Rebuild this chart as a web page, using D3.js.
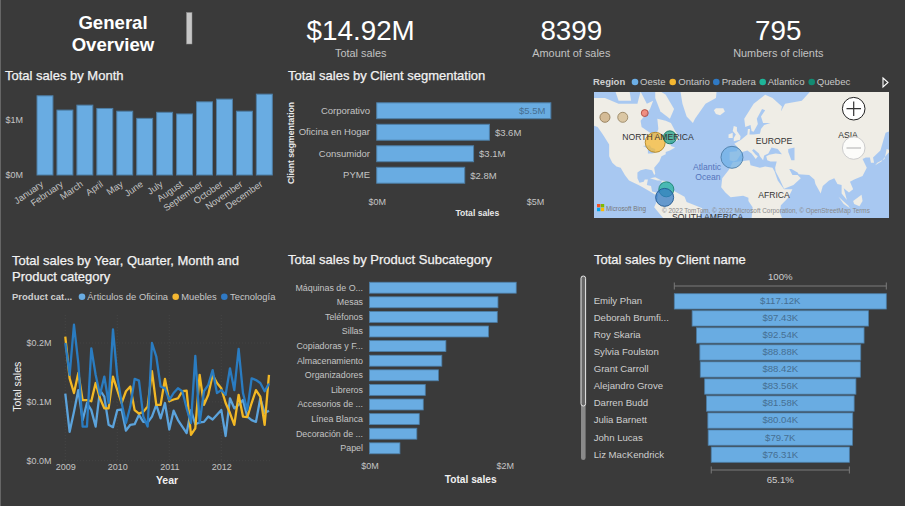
<!DOCTYPE html>
<html><head><meta charset="utf-8">
<script src="https://cdn.jsdelivr.net/npm/d3@7"></script>
<style>
html,body{margin:0;padding:0;background:#3a3a3a;overflow:hidden}
svg{display:block;font-family:"Liberation Sans",Arial,sans-serif}
.title{fill:#f2f2f2;font-size:13px;stroke:#f2f2f2;stroke-width:.25px}
.tick text{fill:#c4c4c4;font-size:9px}
</style></head><body><svg id="c" width="905" height="506"></svg>
<script>
// ---------- data ----------
const months=["January","February","March","April","May","June","July","August","September","October","November","December"];
const monthSales=[1.44,1.18,1.27,1.21,1.16,1.03,1.14,1.11,1.33,1.38,1.16,1.47];
const segments=["Corporativo","Oficina en Hogar","Consumidor","PYME"];
const segmentSales=[5.5,3.56,3.06,2.78];
const subcats=["Máquinas de O...","Mesas","Teléfonos","Sillas","Copiadoras y F...","Almacenamiento","Organizadores","Libreros","Accesorios de ...","Línea Blanca","Decoración de ...","Papel"];
const subcatSales=[2.17,1.90,1.89,1.76,1.13,1.07,1.02,0.825,0.795,0.736,0.70,0.45];
const clients=["Emily Phan","Deborah Brumfi...","Roy Skaria","Sylvia Foulston","Grant Carroll","Alejandro Grove","Darren Budd","Julia Barnett","John Lucas","Liz MacKendrick"];
const clientSales=[117.12,97.43,92.54,88.88,88.42,83.56,81.58,80.04,79.7,76.31];
const funnelEnds=["100%","65.1%"];
const years=[2009,2010,2011,2012];
const articulos=[114,49,83,120,69,98,86,58,120,109,61,57,86,87,51,61,62,78,66,65,75,95,72,98,53,85,69,58,47,86,62,65,66,75,70,78,86,42,106,89,95,103,75,69,66,106,81,85];
const muebles=[211,140,115,149,103,103,101,132,106,89,89,143,120,98,118,126,86,80,83,92,152,95,95,139,101,104,106,118,119,44,55,146,95,112,146,132,123,98,81,61,112,75,74,98,120,109,61,146];
const tecnologia=[200,146,231,166,58,58,191,146,112,143,98,223,143,98,64,92,139,136,75,58,200,177,126,123,103,115,123,118,89,64,178,64,118,129,154,115,120,112,157,120,190,115,86,140,137,132,118,131];
const kpiValues=["$14.92M","8399","795"];
const kpiLabels=["Total sales","Amount of sales","Numbers of clients"];
const regionNames=["Oeste","Ontario","Pradera","Atlantico","Quebec"];
const bubbleLon=[-128,-111,-90,-80,-66,-6.7,-69.4,-71];
const bubbleLat=[62.6,62.6,64.4,49.4,52.4,39.2,12,4.4];
const bubbleSize=[25,25,12,100,42,121,56,81];
const bubbleColor=["#c9a877","#d2b98a","#f0695a","#f4b731","#1b9e86","#6caee6","#26b39c","#2f79c4"];
// coarse coastlines, [lon,lat]
const land=[
[[-168,66],[-162,70],[-156,71],[-141,70],[-128,70],[-115,68],[-108,68],[-97,68],[-94,72],[-88,68],[-82,69],[-85,66],[-94,61],[-93,58],[-85,55],[-82,53],[-80,51],[-79,54],[-77,57],[-78,62],[-70,61],[-65,60],[-61,56],[-56,52],[-60,50],[-66,50],[-65,47],[-61,46],[-66,44],[-70,43],[-70,41.5],[-74,40],[-76,36],[-81,31],[-80,26],[-81,25],[-83,29],[-89,30],[-94,29],[-97,27],[-97,22],[-95,18],[-91,19],[-90,21],[-87,21],[-88,16],[-84,15],[-83,10],[-79,9],[-77,8],[-80,7],[-85,10],[-92,14],[-96,16],[-105,20],[-109,25],[-113,31],[-117,32],[-121,35],[-124,40],[-124,48],[-130,54],[-135,58],[-146,60],[-152,59],[-160,55],[-158,58],[-165,61],[-165,64]],
[[-80,73],[-70,71],[-62,66],[-66,62],[-75,65],[-80,70]],
[[-118,72],[-105,73],[-103,69],[-115,69]],
[[-95,80],[-65,83],[-62,80],[-78,76],[-92,76]],
[[-125,74],[-115,76],[-100,76],[-95,74],[-110,73]],
[[-60,76],[-40,83],[-20,76],[-22,70],[-32,68],[-42,62],[-44,60],[-50,63],[-54,68],[-57,74]],
[[-24,65.5],[-22,66.3],[-15,66.3],[-13.5,65],[-18,63.5],[-22,64]],
[[-5,50],[1,51],[1.5,53],[-2,56],[-2,58],[-5,58.5],[-6,56],[-3,54],[-5,52]],
[[-10,52],[-6,52],[-6,55],[-10,54]],
[[-9,37],[-9,43],[-2,43.5],[-1,46],[-4.5,48.5],[2,51],[8,54],[8.5,57],[10.5,57],[10,54],[14,54],[20,54.5],[21,57],[24,59],[30,60],[23,60],[21,63],[25,65.5],[22,66],[17,62],[18,59.5],[14,55.5],[12,56],[11,59],[6,58],[5,62],[14,68],[25,71],[32,70],[41,67],[40,65],[44,68],[60,69],[68,72],[80,73],[105,77],[140,73],[180,69],[180,65],[163,60],[163,55],[157,51],[155,58],[140,55],[135,44],[128,39],[129,35],[126,35],[125,39],[121,39],[118,38],[122,31],[118,24],[110,21],[106,19],[109,12],[105,9],[100,13],[103,2],[98,8],[98,16],[94,17],[91,22],[86,20],[80,15],[78,8],[73,17],[72,21],[67,25],[57,25.5],[56,27],[50,30],[48,30],[51,25],[56,25],[59,22],[52,16],[43,12.5],[39,21],[35,28],[34.5,31],[36,36],[30,36],[27,37],[26,40],[29,41],[35,42],[41,41.5],[37,45],[31,46],[28,42],[24,40.5],[23,37],[20,40],[19,42],[14,45],[12.5,44],[16,41],[18,40],[16,38],[12,42],[8,44],[3,43],[0,39.5],[-2,37],[-5,36]],
[[-6,35.5],[10,37],[11,33],[20,31],[25,32],[32,31],[34,28],[37,20],[43,12],[51,12],[47,4],[40,-3],[39,-10],[41,-15],[35,-24],[28,-33],[18,-34],[12,-16],[13,-5],[9,1],[9,4],[4,6],[-8,4.5],[-13,9],[-17,14],[-16,22],[-10,29]],
[[-77,8],[-72,12],[-62,10.5],[-52,5],[-50,0],[-35,-6],[-39,-16],[-48,-26],[-58,-38],[-70,-50],[-72,-35],[-70,-18],[-81,-5],[-78,2]],
[[-85,22],[-80,23],[-74,20],[-78,20]],
[[-74,20],[-69,19.5],[-69,18],[-74,18]],
[[130,33],[136,36],[141,41],[145,44],[141,45],[139,38],[132,35]],
[[95,5],[104,-3],[106,-6],[100,-2]],
[[109,1],[117,7],[118,1],[115,-4],[110,-2]]
];
const water=[
[[47,45],[53,46],[53,37],[50,37],[47,43]],
[[-92,47],[-85,47.5],[-84,46],[-80,45],[-80,42.5],[-83,42],[-87,42],[-87,45],[-90,46.5]]
];
// ---------- style ----------
const BAR="#69ace2",EDGE="#4d7ea6",LBL="#c4c4c4",DARK="#466f92";
const svg=d3.select("#c");
svg.append("rect").attr("width",905).attr("height",506).attr("fill","#3a3a3a");
svg.append("rect").attr("width",1).attr("height",506).attr("fill","#666");
function txt(x,y,s,o={}){
  const t=svg.append("text").attr("x",x).attr("y",y).text(s)
    .attr("text-anchor",o.a||"start").attr("fill",o.c||LBL).attr("font-size",o.s||9.5)
    .attr("font-weight",o.w||400);
  if(o.r!==undefined)t.attr("transform",`rotate(${o.r} ${x} ${y})`);
  if(o.cls)t.attr("class",o.cls);
  return t;
}
function title(x,y,s){return txt(x,y,s,{cls:"title",c:"#f2f2f2",s:13});}
function axisStyle(g){g.select(".domain").remove();g.selectAll(".tick line").remove();}
// ---------- header ----------
txt(113,29,"General",{a:"middle",c:"#fff",s:18.6,w:700});
txt(113,50.5,"Overview",{a:"middle",c:"#fff",s:18.6,w:700});
svg.append("rect").attr("x",186.5).attr("y",12.5).attr("width",5.5).attr("height",31.5).attr("fill","#c6c6c6").attr("stroke","#8c8c8c").attr("stroke-width",.5);
const kpiX=[360.7,571.3,778.3];
kpiValues.forEach((v,i)=>{
  txt(kpiX[i],39.5,v,{a:"middle",c:"#fff",s:27.8});
  txt(kpiX[i],56.7,kpiLabels[i],{a:"middle",c:"#c2c2c2",s:10.9});
});
// ---------- month ----------
title(5,79.5,"Total sales by Month");
{
 const x=d3.scaleBand().domain(months).range([35,274.3]).paddingInner(.2).paddingOuter(.1);
 const y=d3.scaleLinear().domain([0,1]).range([175,120]);
 svg.selectAll(".m").data(months).join("rect").attr("x",d=>x(d)).attr("width",x.bandwidth())
   .attr("y",(d,i)=>y(monthSales[i])).attr("height",(d,i)=>y(0)-y(monthSales[i]))
   .attr("fill",BAR).attr("stroke",EDGE).attr("stroke-width",1);
 svg.append("g").attr("transform","translate(23,0)").call(d3.axisLeft(y).tickValues([0,1]).tickFormat(d=>"$"+d+"M").tickSize(0).tickPadding(0)).call(axisStyle);
 const ax=svg.append("g").attr("transform","translate(0,178)").call(d3.axisBottom(x).tickSize(0).tickPadding(0)).call(axisStyle);
 ax.selectAll("text").attr("text-anchor","end").attr("dy",0).attr("y",0).attr("x",0)
   .attr("transform","translate(-1,7.5) rotate(-35)").style("font-size","9.3px");
}
// ---------- segmentation ----------
title(288,79.5,"Total sales by Client segmentation");
{
 const x=d3.scaleLinear().domain([0,5]).range([376.7,535]);
 const y=d3.scaleBand().domain(segments).range([100,186]).paddingInner(.26).paddingOuter(.13);
 svg.selectAll(".s").data(segments).join("rect").attr("x",x(0)).attr("y",d=>y(d)).attr("height",y.bandwidth())
   .attr("width",(d,i)=>x(segmentSales[i])-x(0)).attr("fill",BAR).attr("stroke",EDGE);
 const a=svg.append("g").attr("transform","translate(370,0)").call(d3.axisLeft(y).tickSize(0).tickPadding(0)).call(axisStyle);
 a.selectAll("text").style("font-size","9.5px");
 svg.append("g").attr("transform","translate(0,199)").call(d3.axisBottom(x).tickValues([0,5]).tickFormat(d=>"$"+d+"M").tickSize(0).tickPadding(0)).call(axisStyle);
 segments.forEach((s,i)=>{
  const v="$"+d3.format(".1f")(segmentSales[i])+"M", yy=y(s)+y.bandwidth()/2+3.3;
  if(i===0)txt(x(segmentSales[i])-5.5,yy,v,{a:"end",c:DARK});
  else txt(x(segmentSales[i])+5.5,yy,v,{});
 });
 txt(294.3,143,"Client segmentation",{a:"middle",r:-90,s:8.6,w:700,c:"#e8e8e8"});
 txt(477.3,216,"Total sales",{a:"middle",s:8.6,w:700,c:"#e8e8e8"});
}
// ---------- map ----------
{
 txt(593,85,"Region",{s:9.5,w:700,c:"#cfcfcf"});
 const dotX=[635,672.7,716.3,762.7,811.7], textX=[640,678.3,721.7,767.7,816.7], dotC=["#6caee6","#f4b731","#2f79c4","#1fb59a","#138a72"];
 regionNames.forEach((r,i)=>{
  svg.append("circle").attr("cx",dotX[i]).attr("cy",82).attr("r",3.3).attr("fill",dotC[i]);
  txt(textX[i],85.4,r,{s:9.6,c:"#c8c8c8"});
 });
 svg.append("path").attr("d",d3.line()([[883,78],[888,82.5],[883,87]])+"Z").attr("fill","none").attr("stroke","#fff").attr("stroke-width",1.1);
 const defs=svg.append("defs");
 defs.append("clipPath").attr("id","mapclip").append("rect").attr("x",594).attr("y",92).attr("width",295).attr("height",126);
 defs.append("filter").attr("id","soft").append("feGaussianBlur").attr("stdDeviation",.6);
 const g=svg.append("g").attr("clip-path","url(#mapclip)");
 g.append("rect").attr("x",594).attr("y",92).attr("width",295).attr("height",126).attr("fill","#a8c8f1");
 const proj=d3.geoMercator().scale(60).translate([739,202]);
 const line=d3.line().x(d=>proj(d)[0]).y(d=>proj(d)[1]);
 const sharp=g.append("g").attr("filter","url(#soft)");
 sharp.selectAll(".l").data(land).join("path").attr("d",d=>line(d)+"Z").attr("fill","#efede6");
 sharp.selectAll(".w").data(water).join("path").attr("d",d=>line(d)+"Z").attr("fill","#a8c8f1");
 const r=d3.scaleSqrt().domain([0,121]).range([0,11]);
 bubbleSize.forEach((s,i)=>{
  const p=proj([bubbleLon[i],bubbleLat[i]]);
  g.append("circle").attr("cx",p[0]).attr("cy",p[1]).attr("r",r(s)).attr("fill",bubbleColor[i]).attr("fill-opacity",.72)
   .attr("stroke",d3.color(bubbleColor[i]).darker(.9)).attr("stroke-width",.9);
 });
 const ml=(x,y,s,c,fs)=>g.append("text").attr("x",x).attr("y",y).attr("text-anchor","middle").attr("font-size",fs||8.6).attr("fill",c||"#333").text(s);
 ml(658,140,"NORTH AMERICA");ml(774,144,"EUROPE");ml(848,137.5,"ASIA");ml(774,198,"AFRICA");
 ml(707.7,220,"SOUTH AMERICA");
 ml(707,170,"Atlantic","#5574bb");ml(708,180,"Ocean","#5574bb");
 [["#f25022",597,204],["#7fba00",600.8,204],["#00a4ef",597,207.8],["#ffb900",600.8,207.8]].forEach(d=>g.append("rect").attr("x",d[1]).attr("y",d[2]).attr("width",3.4).attr("height",3.4).attr("fill",d[0]));
 g.append("text").attr("x",606).attr("y",210.5).attr("font-size",6.3).attr("fill","#777").text("Microsoft Bing");
 g.append("text").attr("x",662).attr("y",212.5).attr("font-size",6.4).attr("fill","#8a8a8a").text("© 2022 TomTom, © 2022 Microsoft Corporation, © OpenStreetMap  Terms");
 g.append("circle").attr("cx",853.7).attr("cy",108.7).attr("r",11.3).attr("fill","#fff").attr("stroke","#222").attr("stroke-width",1);
 g.append("path").attr("d","M846.5,108.7H861M853.7,101.5V116").attr("stroke","#333").attr("stroke-width",1.2);
 g.append("circle").attr("cx",853.7).attr("cy",148).attr("r",11.3).attr("fill","#fff").attr("fill-opacity",.8).attr("stroke","#ccc").attr("stroke-width",1);
 g.append("path").attr("d","M846.5,148H861").attr("stroke","#bbb").attr("stroke-width",1.2);
}
// ---------- line chart ----------
title(12,265,"Total sales by Year, Quarter, Month and");
title(12,281,"Product category");
{
 txt(12,300,"Product cat...",{s:9.5,w:700,c:"#cfcfcf"});
 [[82,87.3,"#69ace2","Árticulos de Oficina"],[175.7,181.3,"#f4b731","Muebles"],[224.3,230,"#2f79c4","Tecnología"]].forEach(d=>{
  svg.append("circle").attr("cx",d[0]).attr("cy",296.8).attr("r",3.3).attr("fill",d[2]);
  txt(d[1],300,d[3],{s:9.4,c:"#c8c8c8"});
 });
 const x=d3.scaleLinear().domain([0,12]).range([65.3,117.3]);
 const y=d3.scaleLinear().domain([0,200]).range([460.7,343]);
 const grid=svg.append("g").attr("stroke","#4c4c4c").attr("stroke-width",.6).attr("stroke-dasharray","1 2");
 [0,100,200].forEach(v=>grid.append("line").attr("x1",62).attr("x2",272).attr("y1",y(v)).attr("y2",y(v)));
 years.forEach((yr,i)=>grid.append("line").attr("x1",x(i*12)).attr("x2",x(i*12)).attr("y1",315).attr("y2",460));
 svg.append("g").attr("transform","translate(51.5,0)").call(d3.axisLeft(y).tickValues([0,100,200]).tickFormat(d=>"$"+(d/1000).toFixed(1)+"M").tickSize(0).tickPadding(0)).call(axisStyle);
 svg.append("g").attr("transform","translate(0,464)").call(d3.axisBottom(x).tickValues(years.map((d,i)=>i*12)).tickFormat(d=>years[d/12]).tickSize(0).tickPadding(0)).call(axisStyle);
 const ln=d3.line().x((d,i)=>x(i)).y(d=>y(d));
 [[articulos,"#5ba3dc"],[muebles,"#f2b825"],[tecnologia,"#2a7cc1"]].forEach(s=>
  svg.append("path").attr("d",ln(s[0])).attr("fill","none").attr("stroke",s[1]).attr("stroke-width",2.3).attr("stroke-linejoin","round"));
 txt(21,386.7,"Total sales",{a:"middle",r:-90,s:10.6,c:"#f0f0f0"});
 txt(167,484,"Year",{a:"middle",s:10.5,w:700,c:"#f0f0f0"});
}
// ---------- subcategory ----------
title(288,264,"Total sales by Product Subcategory");
{
 const x=d3.scaleLinear().domain([0,2]).range([369.5,504.7]);
 const y=d3.scaleBand().domain(subcats).range([280.4,455.6]).paddingInner(.25).paddingOuter(.125);
 svg.selectAll(".p").data(subcats).join("rect").attr("x",x(0)).attr("y",d=>y(d)).attr("height",y.bandwidth())
  .attr("width",(d,i)=>x(subcatSales[i])-x(0)).attr("fill",BAR).attr("stroke",EDGE).attr("stroke-width",.8);
 const a=svg.append("g").attr("transform","translate(363,0)").call(d3.axisLeft(y).tickSize(0).tickPadding(0)).call(axisStyle);
 a.selectAll("text").style("font-size","8.9px");
 svg.append("g").attr("transform","translate(0,463)").call(d3.axisBottom(x).tickValues([0,2]).tickFormat(d=>"$"+d+"M").tickSize(0).tickPadding(0)).call(axisStyle);
 txt(470.7,482.5,"Total sales",{a:"middle",s:10.2,w:700,c:"#f0f0f0"});
}
// ---------- funnel ----------
title(594,264,"Total sales by Client name");
{
 const cx=780.3;
 const w=d3.scaleLinear().domain([0,clientSales[0]]).range([0,212]);
 const y=d3.scaleBand().domain(clients).range([292.85,463.15]).paddingInner(.1).paddingOuter(.05);
 svg.selectAll(".f").data(clients).join("rect").attr("y",d=>y(d)).attr("height",y.bandwidth())
  .attr("x",(d,i)=>cx-w(clientSales[i])/2).attr("width",(d,i)=>w(clientSales[i])).attr("fill",BAR).attr("stroke",EDGE).attr("stroke-width",.8);
 clients.forEach((c,i)=>{
  const m=y(c)+y.bandwidth()/2+2.9;
  txt(593.7,m,c,{s:9.6,c:"#cecece"});
  txt(cx,m,"$"+clientSales[i]+"K",{a:"middle",s:9.6,c:DARK});
 });
 const br=(x0,x1,yy)=>{svg.append("path").attr("d",`M${x0},${yy-3.5}V${yy+3.5}M${x1},${yy-3.5}V${yy+3.5}M${x0},${yy}H${x1}`).attr("stroke","#7a7a7a").attr("stroke-width",1).attr("fill","none");};
 const last=clientSales[clientSales.length-1];
 br(cx-106,cx+106,286);
 br(cx-w(last)/2,cx+w(last)/2,470);
 txt(cx,280,funnelEnds[0],{a:"middle",s:9.6,c:"#cecece"});
 txt(cx,482.5,funnelEnds[1],{a:"middle",s:9.6,c:"#cecece"});
 svg.append("rect").attr("x",581).attr("y",276).attr("width",4.6).attr("height",184).attr("rx",2.3).attr("fill","#8a8a8a");
 svg.append("rect").attr("x",581).attr("y",276).attr("width",4.6).attr("height",130).attr("rx",2.3).attr("fill","#666").attr("stroke","#e6e6e6").attr("stroke-width",1);
}
</script></body></html>
